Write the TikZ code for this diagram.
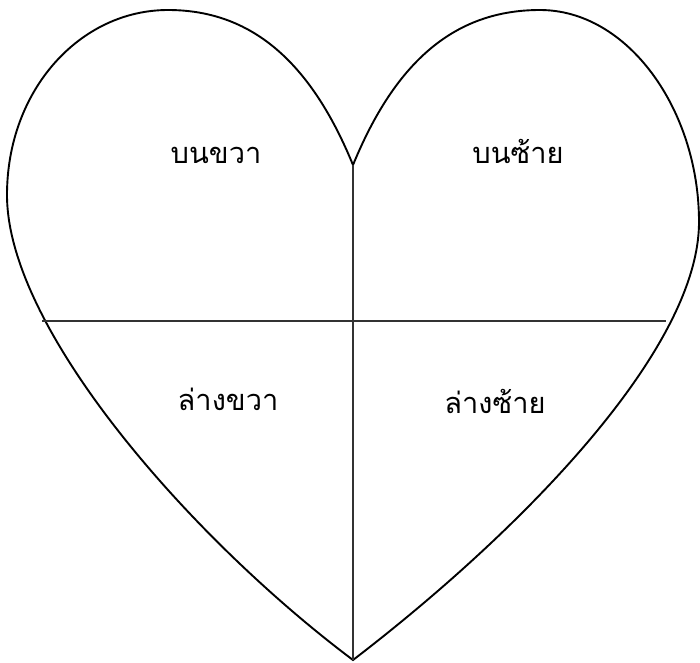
\documentclass[tikz,border=0pt]{standalone}
\usepackage{fontspec}
\newfontfamily\thaifont[Script=Thai]{Loma}

\begin{document}
\begin{tikzpicture}[x=1pt,y=-1pt,
  heart/.style={line width=1.9pt,line join=miter},
  divider/.style={line width=1.1pt,black!80},
  quarter/.style={font=\thaifont\fontsize{29}{29}\selectfont,anchor=base,inner sep=0pt}]
\fill[white] (0,0) rectangle (700,662);
\useasboundingbox (0,0) rectangle (700,662);
% outline points
\coordinate (cusp) at (353,165);
\coordinate (tip) at (353,660);
\coordinate (topL) at (168,10);
\coordinate (topR) at (540,10);
\coordinate (sideL) at (7,195);
\coordinate (sideR) at (699,222);
\coordinate (midL) at (42,321);
\coordinate (midR) at (666,321);
\draw[heart] (cusp) .. controls (310,60) and (250,10) .. (topL)
   .. controls (80,10) and (7,90) .. (sideL)
   .. controls (7,330) and (193,540) .. (tip)
   .. controls (520,532) and (699,350) .. (sideR)
   .. controls (699,110) and (628,10) .. (topR)
   .. controls (456,10) and (396,60) .. cycle;
\draw[divider] (cusp) -- (tip);
\draw[divider] (midL) -- (midR);
\foreach \n/\x/\y/\t in %
{upleft/216/163/บนขวา,upright/518/163/บนซ้าย,lowleft/228/410/ล่างขวา,lowright/495/413/ล่างซ้าย} {
   \node[quarter] (\n) at (\x,\y) {\t};
}
\end{tikzpicture}
\end{document}
